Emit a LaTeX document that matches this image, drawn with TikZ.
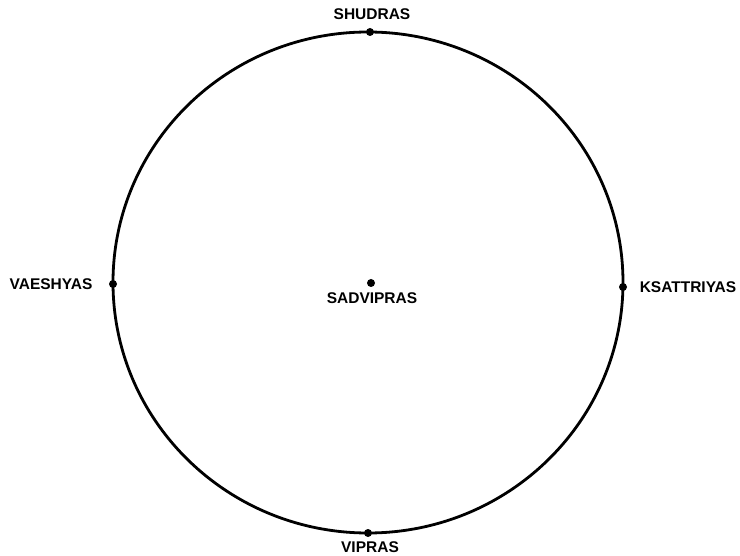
\documentclass[tikz,border=0pt]{standalone}
\usepackage{fontspec}
\setmainfont{Liberation Sans}
\begin{document}
\begin{tikzpicture}[x=1pt,y=-1pt,
  dotnode/.style={circle,fill=black,inner sep=0pt,minimum size=8pt},
  lbl/.style={inner sep=0pt,font=\fontsize{15.5}{18}\selectfont\bfseries}]
\useasboundingbox (0,0) rectangle (740,556);
\draw[line width=2.8pt] (368,282.5) ellipse [x radius=255, y radius=250.5];
\node[dotnode] (top) at (370,32) {};
\node[dotnode] (bot) at (368,533) {};
\node[dotnode] (left) at (113,284) {};
\node[dotnode] (right) at (623,287) {};
\node[dotnode] (ctr) at (371,283) {};
\node[lbl] (shudras) at (372,14) {SHUDRAS};
\node[lbl] (vaeshyas) at (51,284) {VAESHYAS};
\node[lbl] (ksat) at (688,287) {KSATTRIYAS};
\node[lbl] (sadv) at (372,298) {SADVIPRAS};
\node[lbl] (vipras) at (370,547) {VIPRAS};
\end{tikzpicture}
\end{document}
